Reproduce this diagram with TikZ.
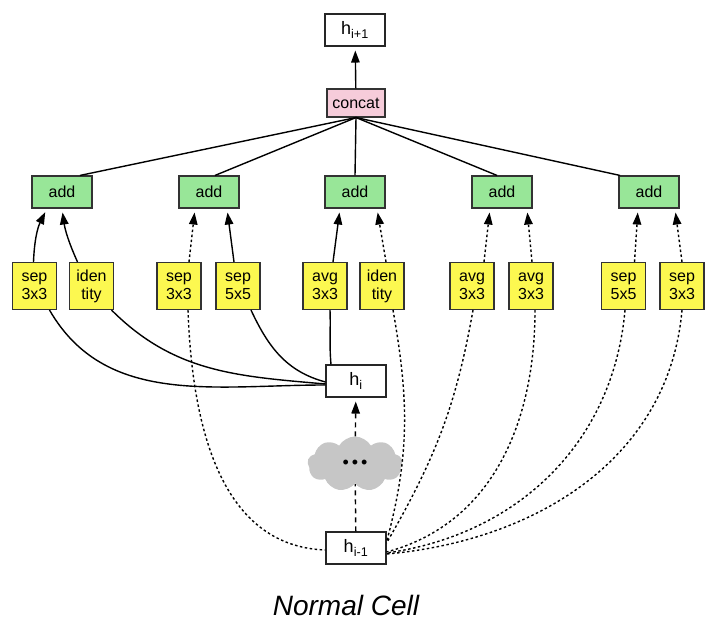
\documentclass[tikz,border=0pt]{standalone}
\usepackage{fontspec}
\setmainfont{Liberation Sans}
\usetikzlibrary{arrows.meta,shapes.symbols}
\definecolor{addgreen}{RGB}{152,230,152}
\definecolor{opyellow}{RGB}{252,248,80}
\definecolor{concatpink}{RGB}{246,204,218}

\begin{document}
\begin{tikzpicture}[x=1pt, y=1pt,
    state/.style ={rectangle, draw=black!85, line width=1.1pt, fill=white,
      minimum width=60pt, minimum height=32pt, inner sep=0pt,
      font=\fontsize{18}{20}\selectfont},
    combine/.style ={rectangle, draw=black!80, line width=1.1pt, fill=addgreen,
      minimum width=60pt, minimum height=32pt, inner sep=0pt,
      font=\fontsize{16}{18}\selectfont},
    merge/.style ={rectangle, draw=black!80, line width=1.1pt, fill=concatpink,
      minimum width=58pt, minimum height=28pt, inner sep=0pt,
      font=\fontsize{16}{18}\selectfont},
    operation/.style ={rectangle, draw=black!80, line width=1.1pt, fill=opyellow,
      minimum width=44pt, minimum height=47pt, inner sep=0pt, align=center,
      font=\fontsize{16}{18}\selectfont},
    link/.style ={line width=1.4pt},
    hidden/.style ={line width=1.4pt, dash pattern=on 2.5pt off 2.5pt},
    pointer/.style ={-{Triangle[length=12pt,width=8.5pt]}, shorten >=4pt}]
   \useasboundingbox (0,0) rectangle (725,636);

   \node[state] (hnext)  at (355,606) {h\textsubscript{i+1}};
   \node[merge] (concat) at (356,533) {concat};

   \node[combine] (add1) at (62,444)  {add};
   \node[combine] (add2) at (209,444) {add};
   \node[combine] (add3) at (355,444) {add};
   \node[combine] (add4) at (502,444) {add};
   \node[combine] (add5) at (649,444) {add};

   \node[operation] (op1)  at (34.5,350)  {sep\\3x3};
   \node[operation] (op2)  at (91.5,350)  {iden\\tity};
   \node[operation] (op3)  at (179,350)   {sep\\3x3};
   \node[operation] (op4)  at (238,350)   {sep\\5x5};
   \node[operation] (op5)  at (325,350)   {avg\\3x3};
   \node[operation] (op6)  at (382,350)   {iden\\tity};
   \node[operation] (op7)  at (472,350)   {avg\\3x3};
   \node[operation] (op8)  at (531,350)   {avg\\3x3};
   \node[operation] (op9)  at (623.5,350) {sep\\5x5};
   \node[operation] (op10) at (682,350)   {sep\\3x3};

   \node[state] (hcur)  at (356,255) {h\textsubscript{i}};
   \node[cloud, cloud puffs=9, cloud puff arc=120, aspect=1.7, fill=gray!45,
     minimum width=95pt, minimum height=55pt, inner sep=0pt,
     font=\fontsize{18}{20}\selectfont] (cloud) at (355,172)
     {\textbullet\hspace{3pt}\textbullet\hspace{3pt}\textbullet};
   \node[state] (hprev) at (356,88) {h\textsubscript{i-1}};

   \node[font=\fontsize{28}{30}\selectfont\itshape] (title) at (346,31) {Normal Cell};

   % output
   \draw[link, pointer] (concat) to (hnext);
   \draw[link] (concat.south) to ([xshift=18pt]add1.north);
   \draw[link] (concat.south) to ([xshift=6pt]add2.north);
   \draw[link] (concat.south) to (add3.north);
   \draw[link] (concat.south) to ([xshift=-5pt]add4.north);
   \draw[link] (concat.south) to ([xshift=-29pt]add5.north);

   % ops into adds
   \draw[link, pointer] ([xshift=-1pt]op1.north) to[bend left=12] ([xshift=-15pt]add1.south);
   \draw[link, pointer] ([xshift=-14pt]op2.north) to[bend left=8] (add1.south);
   \draw[hidden, pointer] ([xshift=10pt]op3.north) to ([xshift=-14pt]add2.south);
   \draw[link, pointer] ([xshift=-4pt]op4.north) to ([xshift=18pt]add2.south);
   \draw[link, pointer] ([xshift=8pt]op5.north) to ([xshift=-15pt]add3.south);
   \draw[hidden, pointer] ([xshift=4pt]op6.north) to ([xshift=22pt]add3.south);
   \draw[hidden, pointer] ([xshift=12pt]op7.north) to ([xshift=-12pt]add4.south);
   \draw[hidden, pointer] ([xshift=1pt]op8.north) to ([xshift=25pt]add4.south);
   \draw[hidden, pointer] ([xshift=11pt]op9.north) to ([xshift=-11pt]add5.south);
   \draw[hidden, pointer] (op10.north) to ([xshift=26pt]add5.south);

   % h_i into ops
   \draw[link] ([xshift=15pt]op1.south) to[out=-60, in=180] ([yshift=-4pt]hcur.west);
   \draw[link] ([xshift=20pt]op2.south) to[out=-45, in=175] ([yshift=-3pt]hcur.west);
   \draw[link] ([xshift=13pt]op4.south) to[out=-65, in=165] ([yshift=-1pt]hcur.west);
   \draw[link] ([xshift=5pt]op5.south) to[out=-88, in=95] ([xshift=-25pt]hcur.north);

   % h_{i-1} into ops
   \draw[hidden] ([xshift=9pt]op3.south) to[out=-88, in=178] ([yshift=-2pt]hprev.west);
   \draw[hidden] ([xshift=11pt]op6.south) to[out=-80, in=75] ([yshift=6pt]hprev.east);
   \draw[hidden] ([xshift=1pt]op7.south) to[out=-100, in=60] ([yshift=5pt]hprev.east);
   \draw[hidden] ([xshift=4pt]op8.south) to[out=-90, in=15] ([yshift=-4pt]hprev.east);
   \draw[hidden] ([xshift=1.5pt]op9.south) to[out=-95, in=8] ([yshift=-5pt]hprev.east);
   \draw[hidden] (op10.south) to[out=-95, in=5] ([yshift=-6pt]hprev.east);

   % earlier cells
   \draw[line width=1.4pt, dash pattern=on 5pt off 4pt] (hprev) to (cloud);
   \draw[line width=1.4pt, dash pattern=on 5pt off 4pt, pointer] (cloud) to (hcur);
 \end{tikzpicture}
\end{document}
